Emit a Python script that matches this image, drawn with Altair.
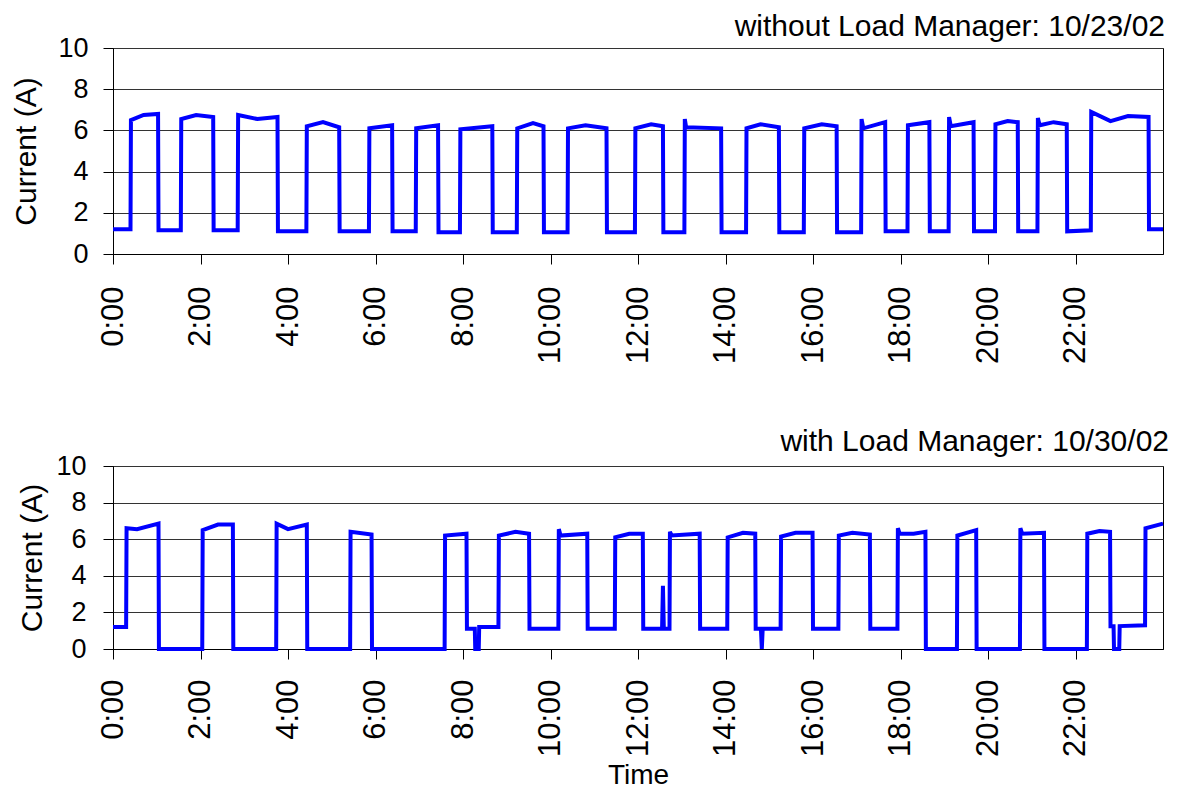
import altair as alt
import pandas as pd

FONT = "Liberation Sans"

# ---- data (hours, amps) ----
top_time = [
    0.00, 0.40, 0.41, 0.70, 1.03, 1.04,
    1.55, 1.56, 1.90, 2.29, 2.30,
    2.85, 2.86, 3.30, 3.76, 3.77,
    4.42, 4.43, 4.80, 5.17, 5.18,
    5.85, 5.86, 6.38, 6.39,
    6.92, 6.93, 7.43, 7.44,
    7.93, 7.94, 8.67, 8.68,
    9.23, 9.24, 9.60, 9.84, 9.85,
    10.39, 10.40, 10.80, 11.28, 11.29,
    11.93, 11.94, 12.30, 12.57, 12.58,
    13.06, 13.07, 13.10, 13.90, 13.91,
    14.47, 14.48, 14.80, 15.22, 15.23,
    15.79, 15.80, 16.20, 16.54, 16.55,
    17.10, 17.11, 17.15, 17.65, 17.66,
    18.16, 18.17, 18.66, 18.67,
    19.10, 19.11, 19.15, 19.67, 19.68,
    20.16, 20.17, 20.45, 20.68, 20.69,
    21.13, 21.14, 21.18, 21.50, 21.80, 21.81,
    22.35, 22.36, 22.80, 23.20, 23.67, 23.68,
    24.00,
]
top_current = [
    1.20, 1.20, 6.50, 6.75, 6.80, 1.15,
    1.15, 6.55, 6.75, 6.65, 1.15,
    1.15, 6.75, 6.55, 6.65, 1.10,
    1.10, 6.20, 6.40, 6.15, 1.10,
    1.10, 6.10, 6.25, 1.10,
    1.10, 6.10, 6.25, 1.05,
    1.05, 6.05, 6.20, 1.05,
    1.05, 6.10, 6.35, 6.20, 1.05,
    1.05, 6.10, 6.25, 6.10, 1.05,
    1.05, 6.10, 6.30, 6.20, 1.05,
    1.05, 6.55, 6.15, 6.10, 1.05,
    1.05, 6.10, 6.30, 6.15, 1.05,
    1.05, 6.10, 6.30, 6.20, 1.05,
    1.05, 6.55, 6.10, 6.40, 1.10,
    1.10, 6.25, 6.40, 1.10,
    1.10, 6.65, 6.20, 6.40, 1.10,
    1.10, 6.30, 6.45, 6.40, 1.10,
    1.10, 6.60, 6.25, 6.40, 6.30, 1.10,
    1.15, 6.90, 6.45, 6.70, 6.65, 1.20,
    1.20,
]

bottom_time = [
    0.00, 0.30, 0.31, 0.55, 1.04, 1.05,
    2.04, 2.05, 2.40, 2.74, 2.75,
    3.73, 3.74, 4.00, 4.43, 4.44,
    5.42, 5.43, 5.91, 5.92,
    7.58, 7.59, 8.08, 8.09,
    8.27, 8.28, 8.36, 8.37,
    8.81, 8.82, 9.20, 9.51, 9.52,
    10.18, 10.19, 10.23, 10.84, 10.85,
    11.47, 11.48, 11.80, 12.11, 12.12,
    12.55, 12.57, 12.59,
    12.72, 12.73, 12.77, 13.41, 13.42,
    14.04, 14.05, 14.40, 14.68, 14.69,
    14.81, 14.83, 14.85,
    15.26, 15.27, 15.60, 15.99, 16.00,
    16.58, 16.59, 16.90, 17.30, 17.31,
    17.93, 17.94, 17.98, 18.30, 18.57, 18.58,
    19.29, 19.30, 19.73, 19.74,
    20.73, 20.74, 20.78, 21.28, 21.29,
    22.26, 22.27, 22.55, 22.79, 22.80,
    22.87, 22.88, 23.00, 23.01,
    23.59, 23.60, 24.00,
]
bottom_current = [
    1.20, 1.20, 6.60, 6.55, 6.85, 0.00,
    0.00, 6.50, 6.80, 6.80, 0.00,
    0.00, 6.85, 6.55, 6.80, 0.00,
    0.00, 6.40, 6.25, 0.00,
    0.00, 6.20, 6.30, 1.10,
    1.10, 0.00, 0.00, 1.20,
    1.20, 6.20, 6.40, 6.30, 1.10,
    1.10, 6.55, 6.20, 6.30, 1.10,
    1.10, 6.10, 6.30, 6.30, 1.10,
    1.10, 3.45, 1.10,
    1.10, 6.40, 6.20, 6.30, 1.10,
    1.10, 6.10, 6.35, 6.30, 1.10,
    1.10, 0.00, 1.10,
    1.10, 6.15, 6.35, 6.35, 1.10,
    1.10, 6.20, 6.35, 6.25, 1.10,
    1.10, 6.60, 6.30, 6.30, 6.40, 0.00,
    0.00, 6.20, 6.50, 0.00,
    0.00, 6.60, 6.30, 6.35, 0.00,
    0.00, 6.30, 6.45, 6.40, 1.25,
    1.25, 0.00, 0.00, 1.25,
    1.30, 6.60, 6.85,
]

x_ticks = list(range(0, 24, 2))
y_ticks = [0, 2, 4, 6, 8, 10]

top_title = "without Load Manager: 10/23/02"
bottom_title = "with Load Manager: 10/30/02"
y_title = "Current (A)"
x_title = "Time"


def panel(times, values, title, title_dx, title_offset, width, height,
          y_label_pad, y_title_pad, x_label_pad, with_x_title):
    df = pd.DataFrame({"t": times, "a": values})
    x_axis_kw = dict(
        values=x_ticks,
        labelExpr="datum.value + ':00'",
        labelAngle=270,
        labelFontSize=31,
        labelFont=FONT,
        labelColor="black",
        labelPadding=x_label_pad,
        labelFlush=False,
        labelOverlap=False,
        tickSize=10,
        tickColor="black",
        domainColor="black",
        grid=False,
    )
    if with_x_title:
        x_axis_kw.update(title=x_title, titleFontSize=28, titleFont=FONT,
                         titleFontWeight="normal", titleColor="black",
                         titlePadding=5)
    else:
        x_axis_kw.update(title="")
    y_axis = alt.Axis(
        values=y_ticks,
        labelFontSize=27,
        labelFont=FONT,
        labelColor="black",
        labelPadding=y_label_pad,
        tickSize=10,
        tickColor="black",
        domainColor="black",
        gridColor="#333333",
        gridWidth=1,
        title=y_title,
        titleFontSize=30,
        titleFont=FONT,
        titleFontWeight="normal",
        titleColor="black",
        titlePadding=y_title_pad,
    )
    return (
        alt.Chart(df)
        .mark_line(color="#0000FF", strokeWidth=4, interpolate="linear")
        .encode(
            x=alt.X("t:Q", scale=alt.Scale(domain=[0, 24], nice=False),
                    axis=alt.Axis(**x_axis_kw)),
            y=alt.Y("a:Q", scale=alt.Scale(domain=[0, 10], nice=False),
                    axis=y_axis),
        )
        .properties(
            width=width,
            height=height,
            title=alt.TitleParams(
                text=title, anchor="end", fontSize=30, fontWeight="normal",
                font=FONT, color="black", offset=title_offset, dx=title_dx,
            ),
        )
    )


top = panel(top_time, top_current, top_title, -6, -8, 1050, 206, 15, 16, 22, False)
bottom = panel(bottom_time, bottom_current, bottom_title, -2, -5, 1050, 183, 17, 8, 20, True)

chart = (
    alt.vconcat(top, bottom, spacing=61)
    .properties(padding={"top": 3, "left": 3, "right": 0, "bottom": 0})
    .configure_view(stroke="black", strokeWidth=1)
)

chart.save("out.html", embed_options={"renderer": "svg", "actions": False})
